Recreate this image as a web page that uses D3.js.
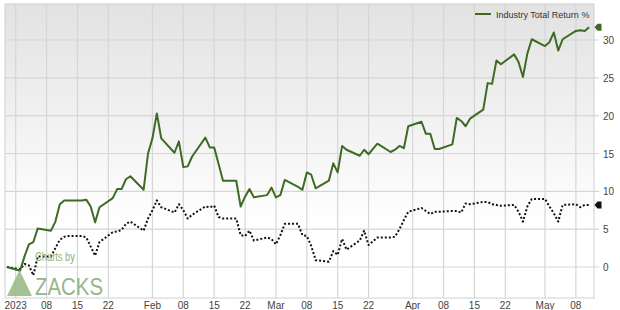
<!DOCTYPE html>
<html>
<head>
<meta charset="utf-8">
<script src="https://cdn.jsdelivr.net/npm/d3@7"></script>
<style>
  body { margin: 0; background: #fff; }
  svg { display: block; font-family: "Liberation Sans", Arial, sans-serif; }
</style>
</head>
<body>
<div id="chart"></div>
<script>
// trading days (holidays carry the previous value)
var dates = [
  "2022-12-30",
  "2023-01-02", "2023-01-03", "2023-01-04", "2023-01-05", "2023-01-06",
  "2023-01-09", "2023-01-10", "2023-01-11", "2023-01-12", "2023-01-13",
  "2023-01-16", "2023-01-17", "2023-01-18", "2023-01-19", "2023-01-20",
  "2023-01-23", "2023-01-24", "2023-01-25", "2023-01-26", "2023-01-27",
  "2023-01-30", "2023-01-31",
  "2023-02-01", "2023-02-02", "2023-02-03",
  "2023-02-06", "2023-02-07", "2023-02-08", "2023-02-09", "2023-02-10",
  "2023-02-13", "2023-02-14", "2023-02-15", "2023-02-16", "2023-02-17",
  "2023-02-20", "2023-02-21", "2023-02-22", "2023-02-23", "2023-02-24",
  "2023-02-27", "2023-02-28",
  "2023-03-01", "2023-03-02", "2023-03-03",
  "2023-03-06", "2023-03-07", "2023-03-08", "2023-03-09", "2023-03-10",
  "2023-03-13", "2023-03-14", "2023-03-15", "2023-03-16", "2023-03-17",
  "2023-03-20", "2023-03-21", "2023-03-22", "2023-03-23", "2023-03-24",
  "2023-03-27", "2023-03-28", "2023-03-29", "2023-03-30", "2023-03-31",
  "2023-04-03", "2023-04-04", "2023-04-05", "2023-04-06", "2023-04-07",
  "2023-04-10", "2023-04-11", "2023-04-12", "2023-04-13", "2023-04-14",
  "2023-04-17", "2023-04-18", "2023-04-19", "2023-04-20", "2023-04-21",
  "2023-04-24", "2023-04-25", "2023-04-26", "2023-04-27", "2023-04-28",
  "2023-05-01", "2023-05-02", "2023-05-03", "2023-05-04", "2023-05-05",
  "2023-05-08", "2023-05-09", "2023-05-10", "2023-05-11"
];

var industryReturn = [
  0,
  -0.5, 1.4, 3.0, 3.3, 5.1,
  4.8, 6.0, 8.3, 8.8, 8.8,
  8.8, 8.9, 8.0, 5.9, 7.9,
  9.1, 10.3, 10.3, 11.6, 12.0,
  10.2, 15.0,
  17.0, 20.3, 17.0,
  15.1, 16.6, 13.2, 13.3, 14.6,
  17.1, 15.8, 15.8, 13.6, 11.4,
  11.4, 8.0, 9.3, 10.3, 9.2,
  9.5, 10.5,
  9.2, 9.5, 11.5,
  10.6, 10.2, 12.5, 12.2, 10.4,
  11.4, 13.7, 12.5, 16.0, 15.5,
  14.7, 15.5, 14.9, 15.6, 16.3,
  15.2, 15.5, 16.0, 15.7, 18.6,
  19.2, 17.6, 17.6, 15.6, 15.6,
  16.2, 19.7, 19.3, 18.6, 19.6,
  20.8, 24.3, 24.2, 27.3, 26.8,
  28.1, 27.1, 25.1, 28.2, 30.1,
  29.2, 29.7, 31.0, 28.6, 30.1,
  31.2, 31.3, 31.2, 31.7
];

var benchmarkReturn = [
  0,
  -0.3, 0.4, 0.2, -1.1, 1.4,
  1.4, 2.5, 3.6, 4.0, 4.1,
  4.1, 3.9, 2.7, 1.5, 3.3,
  4.6, 4.7, 4.9, 5.7, 6.0,
  4.8, 6.4,
  7.5, 8.8, 7.9,
  7.2, 8.3, 7.5, 6.4, 6.9,
  8.0, 7.9, 8.1, 6.6, 6.4,
  6.4, 4.2, 4.1, 4.8, 3.5,
  3.9, 3.7,
  3.0, 4.2, 5.7,
  5.7, 4.2, 4.1, 2.8, 0.9,
  0.7, 2.1, 1.6, 3.7, 2.3,
  3.5, 4.8, 2.9, 3.4, 3.9,
  3.9, 4.0, 5.0, 6.2, 7.3,
  7.8, 7.4, 7.0, 7.3, 7.3,
  7.4, 7.4, 7.2, 8.4, 8.3,
  8.6, 8.6, 8.3, 8.2, 8.1,
  8.2, 7.3, 6.0, 8.0, 9.0,
  9.0, 8.0, 7.1, 6.0, 8.2,
  8.3, 7.9, 8.2, 8.2
];

var tickDates = ["2023-01-01", "2023-01-08", "2023-01-15", "2023-01-22",
  "2023-02-01", "2023-02-08", "2023-02-15", "2023-02-22",
  "2023-03-01", "2023-03-08", "2023-03-15", "2023-03-22",
  "2023-04-01", "2023-04-08", "2023-04-15", "2023-04-22",
  "2023-05-01", "2023-05-08"];
var tickLabels = ["2023", "08", "15", "22", "Feb", "08", "15", "22",
  "Mar", "08", "15", "22", "Apr", "08", "15", "22", "May", "08"];
var yTicks = [0, 5, 10, 15, 20, 25, 30];

var width = 620, height = 310;
var plotBox = { left: 5, top: 4, right: 594, bottom: 298 };
var parse = d3.utcParse("%Y-%m-%d");

var svg = d3.select("#chart").append("svg")
    .attr("width", width)
    .attr("height", height);

var x = d3.scaleUtc()
    .domain([parse("2023-01-01"), parse("2023-05-01")])
    .range([15.7, 545]);
var y = d3.scaleLinear().domain([0, 30]).range([267, 40]);

// background gradient
var grad = svg.append("defs").append("linearGradient")
    .attr("id", "bg").attr("x1", 0).attr("y1", 0).attr("x2", 0).attr("y2", 1);
grad.append("stop").attr("offset", "0%").attr("stop-color", "#e2e2e2");
grad.append("stop").attr("offset", "75%").attr("stop-color", "#ffffff");

svg.append("rect")
    .attr("x", plotBox.left).attr("y", plotBox.top)
    .attr("width", plotBox.right - plotBox.left)
    .attr("height", plotBox.bottom - plotBox.top)
    .attr("fill", "url(#bg)");

// grid
svg.append("g").selectAll("line")
    .data(tickDates)
    .enter().append("line")
    .attr("x1", function (d) { return x(parse(d)); })
    .attr("x2", function (d) { return x(parse(d)); })
    .attr("y1", plotBox.top).attr("y2", plotBox.bottom)
    .attr("stroke", "#d6d6d6").attr("stroke-width", 1.2);

svg.append("g").selectAll("line")
    .data(yTicks)
    .enter().append("line")
    .attr("x1", plotBox.left).attr("x2", plotBox.right + 5)
    .attr("y1", function (d) { return y(d); })
    .attr("y2", function (d) { return y(d); })
    .attr("stroke", "#d6d6d6").attr("stroke-width", 1.2);

svg.append("rect")
    .attr("x", plotBox.left).attr("y", plotBox.top)
    .attr("width", plotBox.right - plotBox.left)
    .attr("height", plotBox.bottom - plotBox.top)
    .attr("fill", "none").attr("stroke", "#d0d0d0");

// y labels on the right
svg.append("g").selectAll("text")
    .data(yTicks)
    .enter().append("text")
    .attr("x", 603)
    .attr("y", function (d) { return y(d) + 4; })
    .attr("font-size", 10)
    .attr("fill", "#444")
    .text(function (d) { return d; });

// x labels
svg.append("g").selectAll("text")
    .data(tickDates)
    .enter().append("text")
    .attr("x", function (d) { return x(parse(d)); })
    .attr("y", 308.5)
    .attr("text-anchor", "middle")
    .attr("font-size", 10)
    .attr("fill", "#444")
    .text(function (d, i) { return tickLabels[i]; });

var series = [
  { values: benchmarkReturn, color: "#111", dash: "2,2" },
  { values: industryReturn, color: "#3e6b23", dash: null }
];

var line = d3.line()
    .x(function (d) { return x(d.date); })
    .y(function (d) { return y(d.value); });

series.forEach(function (s) {
  var pts = dates.map(function (d, i) { return { date: parse(d), value: s.values[i] }; });
  svg.append("path")
      .datum(pts)
      .attr("d", line)
      .attr("fill", "none")
      .attr("stroke", s.color)
      .attr("stroke-width", 2)
      .attr("stroke-linejoin", "round")
      .attr("stroke-dasharray", s.dash);

  // end marker on the right edge
  var last = s.values[s.values.length - 1];
  svg.append("path")
      .attr("transform", `translate(598,${y(last)})`)
      .attr("d", "M-3.5,0 L-0.5,-3.5 L3.5,-3.5 L3.5,3.5 L-0.5,3.5 Z")
      .attr("fill", s.color);
});

// watermark sits on top of the lines
var wm = svg.append("g").attr("fill", "#8db47a");
wm.append("path").attr("d", "M7,296 L19.5,270 L32,296 Z").attr("opacity", 0.8);
wm.append("text").attr("x", 35).attr("y", 261).attr("font-size", 12)
    .attr("textLength", 40).attr("lengthAdjust", "spacingAndGlyphs").text("Charts by");
wm.append("text").attr("x", 35).attr("y", 294.5).attr("font-size", 23)
    .attr("fill", "#98b48a")
    .attr("textLength", 68).attr("lengthAdjust", "spacingAndGlyphs").text("ZACKS");

// legend
svg.append("line")
    .attr("x1", 475).attr("x2", 491)
    .attr("y1", 14).attr("y2", 14)
    .attr("stroke", "#3e6b23").attr("stroke-width", 2);
svg.append("text")
    .attr("x", 496).attr("y", 17.5)
    .attr("font-size", 9)
    .attr("fill", "#333")
    .text("Industry Total Return %");
</script>
</body>
</html>
